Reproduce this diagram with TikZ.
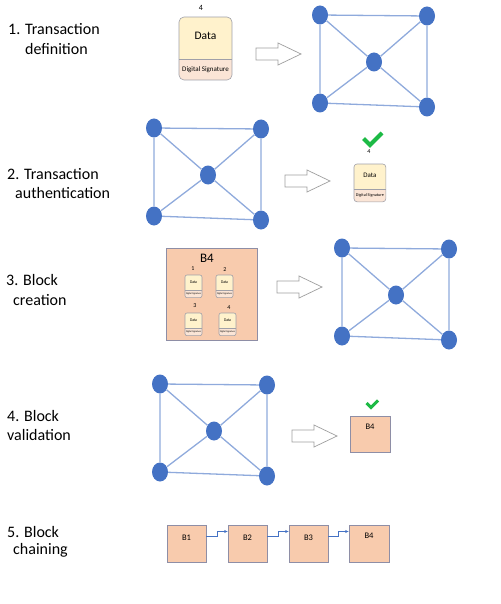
\documentclass[tikz,border=0pt]{standalone}
\usepackage{fontspec}
\setmainfont{Carlito}
\usetikzlibrary{shapes.geometric,arrows.meta}
\definecolor{netnode}{HTML}{4472C4}
\definecolor{netedge}{HTML}{8FAADC}
\definecolor{datafill}{HTML}{FFF2CC}
\definecolor{sigfill}{HTML}{FBE5D6}
\definecolor{blockfill}{HTML}{F8CBAD}
\definecolor{boxline}{HTML}{8E8EA6}
\definecolor{okgreen}{HTML}{1DBA45}
\definecolor{cardline}{HTML}{A0A0A8}
\tikzset{
 netnode/.style={ellipse, fill=netnode, minimum width=16pt, minimum height=19pt, inner sep=0pt},
 netedge/.style={draw=netedge, line width=1.3pt},
 blockarrow/.style={draw=gray!75, fill=white, line width=0.7pt},
 steplabel/.style={font=\fontsize{16}{19}\selectfont, anchor=west, inner sep=0pt},
 blockbox/.style={draw=boxline, fill=blockfill, line width=0.8pt, inner sep=0pt},
 checkmark/.style={draw=okgreen, line width=4pt},
 chainlink/.style={draw=netnode, line width=0.8pt, -{Stealth[length=3.5pt,width=3pt]}},
 numlabel/.style={inner sep=0pt},
 txcard/.pic={
   \begin{scope}
   \clip[rounded corners=#1] (0,0) rectangle (53,63);
   \fill[datafill] (0,0) rectangle (53,42);
   \fill[sigfill] (0,42) rectangle (53,63);
   \end{scope}
   \draw[cardline, line width=0.6pt] (0,42) -- (53,42);
   \draw[cardline, line width=0.6pt, rounded corners=#1] (0,0) rectangle (53,63);
   \node[font=\fontsize{11.5}{12}\selectfont, inner sep=0pt] (-data) at (26.5,19) {Data};
   \node[font=\fontsize{7}{8}\selectfont, inner sep=0pt] (-sig) at (26.5,52.5) {Digital Signature};
 }
}
\newcommand\network[3]{%
 \begin{scope}[shift={(#2,#3)}]
 \node[netnode] (#1tl) at (0,0) {};
 \node[netnode] (#1tr) at (107,1) {};
 \node[netnode] (#1c) at (54,47) {};
 \node[netnode] (#1bl) at (0,88) {};
 \node[netnode] (#1br) at (107,92) {};
 \end{scope}
 \draw[netedge] (#1tl) -- (#1tr) -- (#1br) -- (#1bl) -- (#1tl);
 \draw[netedge] (#1tl) -- (#1c) -- (#1br);
 \draw[netedge] (#1tr) -- (#1c) -- (#1bl);
}
\newcommand\blockarrow[2]{%
 \draw[blockarrow] (#1,#2) ++(0,-6) -- ++(22,0) -- ++(0,-5) -- ++(23,11) -- ++(-23,11) -- ++(0,-5) -- ++(-22,0) -- cycle;
}
\begin{document}
\begin{tikzpicture}[x=1pt,y=-1pt]
\useasboundingbox (0,0) rectangle (500,604);

% step labels
\node[steplabel] (l1a) at (8,29) {1. Transaction};
\node[steplabel] (l1b) at (25,49) {definition};
\node[steplabel] (l2a) at (7,174) {2. Transaction};
\node[steplabel] (l2b) at (15,193) {authentication};
\node[steplabel] (l3a) at (6,280) {3. Block};
\node[steplabel] (l3b) at (13,300) {creation};
\node[steplabel] (l4a) at (7,416) {4. Block};
\node[steplabel] (l4b) at (7,435) {validation};
\node[steplabel] (l5a) at (7,532) {5. Block};
\node[steplabel] (l5b) at (13,550) {chaining};

% row 1
\pic (c1) at (179,17) {txcard=5pt};
\node[numlabel, font=\fontsize{8}{9}\selectfont] (c1n) at (201,8) {4};
\blockarrow{256}{54}
\network{na}{320}{15}

% row 2
\network{nb}{154}{128}
\blockarrow{285}{181}
\draw[checkmark] (363.5,138.5) -- (370,145) -- (382,133);
\node[numlabel, font=\fontsize{6}{7}\selectfont] (c2n) at (369,152) {4};
\pic[scale=0.6, transform shape] (c2) at (354,164) {txcard=3pt};

% row 3
\node[blockbox, minimum width=91pt, minimum height=92pt] (blk) at (211.5,294) {};
\node[numlabel, font=\fontsize{13}{14}\selectfont] (blkt) at (207,258) {B4};
\node[numlabel, font=\fontsize{6}{7}\selectfont] (m1n) at (193,269) {1};
\node[numlabel, font=\fontsize{6}{7}\selectfont] (m2n) at (225,270) {2};
\node[numlabel, font=\fontsize{6}{7}\selectfont] (m3n) at (195,306) {3};
\node[numlabel, font=\fontsize{6}{7}\selectfont] (m4n) at (229,308) {4};
\pic[xscale=0.32, yscale=0.36, transform shape] (m1) at (185,275) {txcard=2pt};
\pic[xscale=0.32, yscale=0.36, transform shape] (m2) at (216,275) {txcard=2pt};
\pic[xscale=0.32, yscale=0.36, transform shape] (m3) at (185,313) {txcard=2pt};
\pic[xscale=0.32, yscale=0.36, transform shape] (m4) at (219,313) {txcard=2pt};
\blockarrow{277}{287}
\network{nc}{342}{248}

% row 4
\network{nd}{160}{384}
\blockarrow{292}{436}
\draw[checkmark, line width=3pt] (366.5,403) -- (371,407.5) -- (378,400.5);
\node[blockbox, minimum width=40pt, minimum height=36pt, font=\fontsize{8.5}{9}\selectfont, text depth=14pt] (vb4) at (370,434) {B4};

% row 5
\node[blockbox, minimum width=39pt, minimum height=37pt, font=\fontsize{8.5}{9}\selectfont, text depth=11pt] (b1) at (186.5,543.5) {B1};
\node[blockbox, minimum width=39pt, minimum height=37pt, font=\fontsize{8.5}{9}\selectfont, text depth=11pt] (b2) at (247.5,543.5) {B2};
\node[blockbox, minimum width=39pt, minimum height=37pt, font=\fontsize{8.5}{9}\selectfont, text depth=11pt] (b3) at (308.5,543.5) {B3};
\node[blockbox, minimum width=40pt, minimum height=37pt, font=\fontsize{8.5}{9}\selectfont, text depth=15pt] (b4) at (369,543.5) {B4};
\draw[chainlink] ([yshift=7pt]b1.east) -- ++(11,0) |- ([yshift=12pt]b2.west);
\draw[chainlink] ([yshift=7pt]b2.east) -- ++(11,0) |- ([yshift=12pt]b3.west);
\draw[chainlink] ([yshift=7pt]b3.east) -- ++(10,0) |- ([yshift=12pt]b4.west);
\end{tikzpicture}
\end{document}
